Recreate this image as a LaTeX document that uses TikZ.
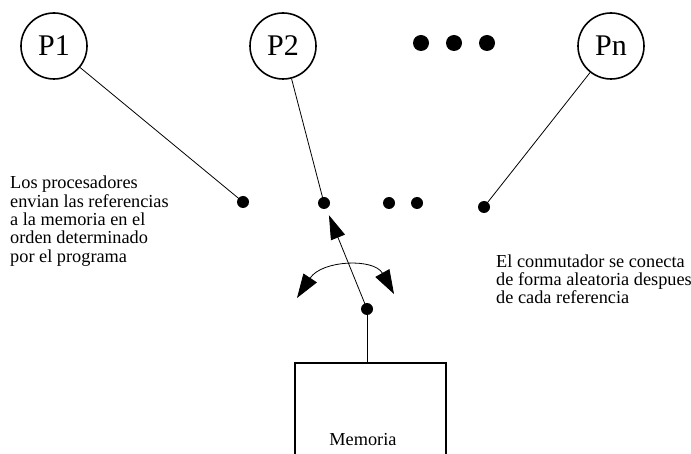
\documentclass[tikz,border=0pt]{standalone}
\usepackage{fontspec}
\setmainfont{Liberation Serif}
\usetikzlibrary{arrows.meta}
\begin{document}
\begin{tikzpicture}[x=1pt,y=-1pt,
  proc/.style={circle,draw,line width=1.6pt,minimum size=66pt,inner sep=0pt,font=\fontsize{30}{30}\selectfont},
  bigdot/.style={circle,fill,inner sep=0pt,minimum size=16pt},
  smalldot/.style={circle,fill,inner sep=0pt,minimum size=12pt},
  conn/.style={line width=0.8pt},
  note/.style={align=left,inner sep=0pt,anchor=north west,font=\fontsize{18.3}{18.3}\selectfont},
  head/.style={-{Triangle[length=24pt,width=15pt]}},
  dhead/.style={{Triangle[length=24pt,width=16pt]}-{Triangle[length=24pt,width=16pt]}}
]
\path[use as bounding box] (0,0) rectangle (691,454);
\clip (0,0) rectangle (691,454);
% processors
\node[proc] (P1) at (54,46) {P1};
\node[proc] (P2) at (283,46) {P2};
\node[proc] (Pn) at (611,46) {Pn};
\node[bigdot] (b1) at (421,43) {};
\node[bigdot] (b2) at (454,43) {};
\node[bigdot] (b3) at (487,43) {};
% switch contacts
\node[smalldot] (d1) at (243,202) {};
\node[smalldot] (d2) at (324,203) {};
\node[smalldot] (d3) at (389,203) {};
\node[smalldot] (d4) at (417,203) {};
\node[smalldot] (d5) at (484,207) {};
\node[smalldot] (m) at (367,309) {};
\draw[conn] (P1) -- (d1.center);
\draw[conn] (P2) -- (d2.center);
\draw[conn] (Pn) -- (d5.center);
% switch arm
\draw[conn,head,shorten >=7pt] (m.center) -- (d2);
% rotation arrow
\coordinate (rl) at (297,298);
\coordinate (rr) at (394,294);
\draw[conn,dhead] (rl) .. controls (322,260) and (374,258) .. (rr);
% memory
\node[draw,line width=1.6pt,minimum width=151pt,minimum height=120pt,inner sep=0pt,anchor=north west] (mem) at (294,362) {};
\draw[conn] (m.center) -- (m.center |- mem.north);
\node[font=\fontsize{18.3}{18.3}\selectfont,anchor=base] (memt) at (363,445) {Memoria};
% notes
\node[note] (nl) at (10,176) {Los procesadores\\envian las referencias\\a la memoria en el\\orden determinado\\por el programa};
\node[note] (nr) at (496,254.5) {El conmutador se conecta\\de forma aleatoria despues\\de cada referencia};
\end{tikzpicture}
\end{document}
